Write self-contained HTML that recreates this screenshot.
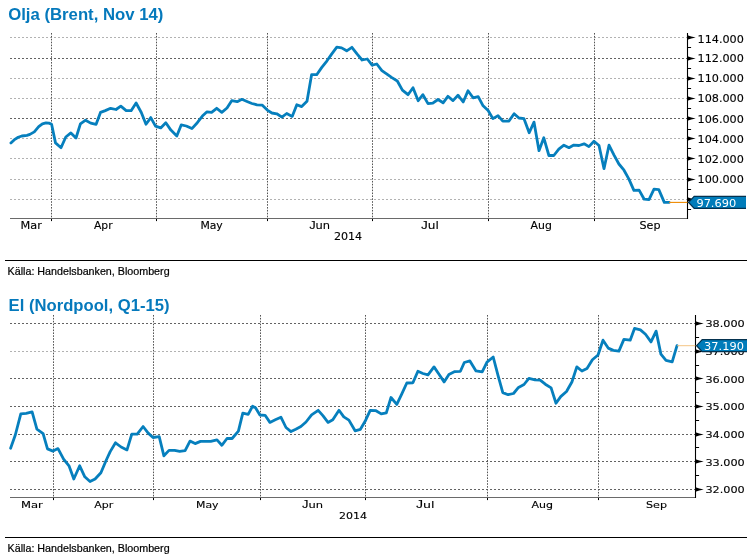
<!DOCTYPE html>
<html lang="sv">
<head>
<meta charset="utf-8">
<title>Olja och El</title>
<style>
html,body{margin:0;padding:0;background:#fff;}
body{width:754px;height:560px;overflow:hidden;position:relative;font-family:"Liberation Sans",sans-serif;}
svg{position:absolute;left:0;top:0;display:block;}
.hg{stroke:#636363;stroke-width:1;stroke-dasharray:2 2;}
.lt{stroke:#b2b2b2;}
.vg{stroke:#555;stroke-width:1;stroke-dasharray:1.6 1.3;}
.ax{stroke:#6a6a6a;stroke-width:1;}
.ay{stroke:#000;stroke-width:1.1;}
.tk{stroke:#000;stroke-width:1;}
.dl{fill:none;stroke:#067fbd;stroke-width:2.8;stroke-linejoin:round;stroke-linecap:round;}
.yl{font-family:"DejaVu Sans","Liberation Sans",sans-serif;fill:#000;stroke:#000;stroke-width:0.1;}
.xl{font-family:"DejaVu Sans","Liberation Sans",sans-serif;fill:#000;stroke:#000;stroke-width:0.12;}
.tl{font-family:"DejaVu Sans","Liberation Sans",sans-serif;fill:#fff;}
.ti{font-family:"Liberation Sans",sans-serif;font-weight:bold;font-size:16.4px;fill:#0579bc;}
.src{font-family:"Liberation Sans",sans-serif;font-size:10.6px;fill:#000;stroke:#000;stroke-width:0.2;}
.rule{stroke:#000;stroke-width:1.15;}
</style>
</head>
<body>
<svg width="754" height="560" viewBox="0 0 754 560">
<rect x="0" y="0" width="754" height="560" fill="#ffffff"/>
<text x="8.2" y="19.6" class="ti" textLength="155.2" lengthAdjust="spacingAndGlyphs">Olja (Brent, Nov 14)</text>
<g>
<line x1="10" y1="37.5" x2="687.5" y2="37.5" class="hg lt"/>
<line x1="10" y1="58.5" x2="687.5" y2="58.5" class="hg"/>
<line x1="10" y1="78.5" x2="687.5" y2="78.5" class="hg lt"/>
<line x1="10" y1="98.5" x2="687.5" y2="98.5" class="hg lt"/>
<line x1="10" y1="118.5" x2="687.5" y2="118.5" class="hg"/>
<line x1="10" y1="138.5" x2="687.5" y2="138.5" class="hg lt"/>
<line x1="10" y1="158.5" x2="687.5" y2="158.5" class="hg lt"/>
<line x1="10" y1="179.5" x2="687.5" y2="179.5" class="hg lt"/>
<line x1="10" y1="199.5" x2="687.5" y2="199.5" class="hg lt"/>
<line x1="51.5" y1="33" x2="51.5" y2="218.5" class="vg"/>
<line x1="51.5" y1="218.5" x2="51.5" y2="221.1" class="tk"/>
<line x1="156.5" y1="33" x2="156.5" y2="218.5" class="vg"/>
<line x1="156.5" y1="218.5" x2="156.5" y2="221.1" class="tk"/>
<line x1="267.5" y1="33" x2="267.5" y2="218.5" class="vg"/>
<line x1="267.5" y1="218.5" x2="267.5" y2="221.1" class="tk"/>
<line x1="372.5" y1="33" x2="372.5" y2="218.5" class="vg"/>
<line x1="372.5" y1="218.5" x2="372.5" y2="221.1" class="tk"/>
<line x1="488.5" y1="33" x2="488.5" y2="218.5" class="vg"/>
<line x1="488.5" y1="218.5" x2="488.5" y2="221.1" class="tk"/>
<line x1="594.5" y1="33" x2="594.5" y2="218.5" class="vg"/>
<line x1="594.5" y1="218.5" x2="594.5" y2="221.1" class="tk"/>
<line x1="10" y1="218.5" x2="688.0" y2="218.5" class="ax"/>
<line x1="687.5" y1="33" x2="687.5" y2="219.0" class="ay"/>
<path d="M687.5,35.2 Q690.9,36.5 695.7,37.5 Q690.9,38.5 687.5,39.8 Z" fill="#000"/>
<text x="697.5" y="42.8" class="yl" font-size="9.7" textLength="46.4" lengthAdjust="spacingAndGlyphs">114.000</text>
<path d="M687.5,56.2 Q690.9,57.5 695.7,58.5 Q690.9,59.5 687.5,60.8 Z" fill="#000"/>
<text x="697.5" y="62.2" class="yl" font-size="9.7" textLength="46.4" lengthAdjust="spacingAndGlyphs">112.000</text>
<path d="M687.5,76.2 Q690.9,77.5 695.7,78.5 Q690.9,79.5 687.5,80.8 Z" fill="#000"/>
<text x="697.5" y="82.0" class="yl" font-size="9.7" textLength="46.4" lengthAdjust="spacingAndGlyphs">110.000</text>
<path d="M687.5,96.2 Q690.9,97.5 695.7,98.5 Q690.9,99.5 687.5,100.8 Z" fill="#000"/>
<text x="697.5" y="102.4" class="yl" font-size="9.7" textLength="46.4" lengthAdjust="spacingAndGlyphs">108.000</text>
<path d="M687.5,116.2 Q690.9,117.5 695.7,118.5 Q690.9,119.5 687.5,120.8 Z" fill="#000"/>
<text x="697.5" y="122.6" class="yl" font-size="9.7" textLength="46.4" lengthAdjust="spacingAndGlyphs">106.000</text>
<path d="M687.5,136.2 Q690.9,137.5 695.7,138.5 Q690.9,139.5 687.5,140.8 Z" fill="#000"/>
<text x="697.5" y="142.8" class="yl" font-size="9.7" textLength="46.4" lengthAdjust="spacingAndGlyphs">104.000</text>
<path d="M687.5,156.2 Q690.9,157.5 695.7,158.5 Q690.9,159.5 687.5,160.8 Z" fill="#000"/>
<text x="697.5" y="162.7" class="yl" font-size="9.7" textLength="46.4" lengthAdjust="spacingAndGlyphs">102.000</text>
<path d="M687.5,177.2 Q690.9,178.5 695.7,179.5 Q690.9,180.5 687.5,181.8 Z" fill="#000"/>
<text x="697.5" y="182.9" class="yl" font-size="9.7" textLength="46.4" lengthAdjust="spacingAndGlyphs">100.000</text>
<path d="M687.5,197.2 Q690.9,198.5 695.7,199.5 Q690.9,200.5 687.5,201.8 Z" fill="#000"/>
<line x1="687.5" y1="47.5" x2="691.1" y2="47.5" class="tk"/>
<line x1="687.5" y1="68.5" x2="691.1" y2="68.5" class="tk"/>
<line x1="687.5" y1="88.5" x2="691.1" y2="88.5" class="tk"/>
<line x1="687.5" y1="108.5" x2="691.1" y2="108.5" class="tk"/>
<line x1="687.5" y1="129.5" x2="691.1" y2="129.5" class="tk"/>
<line x1="687.5" y1="148.5" x2="691.1" y2="148.5" class="tk"/>
<line x1="687.5" y1="169.5" x2="691.1" y2="169.5" class="tk"/>
<line x1="687.5" y1="189.5" x2="691.1" y2="189.5" class="tk"/>
<line x1="687.5" y1="209.5" x2="691.1" y2="209.5" class="tk"/>
<text x="20.5" y="229.0" class="xl" font-size="10.0" textLength="21.3" lengthAdjust="spacingAndGlyphs">Mar</text>
<text x="94" y="229.0" class="xl" font-size="10.0" textLength="18.6" lengthAdjust="spacingAndGlyphs">Apr</text>
<text x="200.4" y="229.0" class="xl" font-size="10.0" textLength="22.4" lengthAdjust="spacingAndGlyphs">May</text>
<text x="309.2" y="229.0" class="xl" font-size="10.0" textLength="20.9" lengthAdjust="spacingAndGlyphs"><tspan font-family="Liberation Sans, sans-serif" font-size="11.2">J</tspan>un</text>
<text x="421" y="229.0" class="xl" font-size="10.0" textLength="17.8" lengthAdjust="spacingAndGlyphs"><tspan font-family="Liberation Sans, sans-serif" font-size="11.2">J</tspan>ul</text>
<text x="530.6" y="229.0" class="xl" font-size="10.0" textLength="21.3" lengthAdjust="spacingAndGlyphs">Aug</text>
<text x="639.5" y="229.0" class="xl" font-size="10.0" textLength="21" lengthAdjust="spacingAndGlyphs">Sep</text>
<text x="333.9" y="240.1" class="xl" font-size="10.0" textLength="28.2" lengthAdjust="spacingAndGlyphs">2014</text>
<path d="M10.9,142.9 L14.1,139.9 L18.2,137.3 L21.8,136.0 L27.0,135.4 L29.9,134.4 L34.3,131.9 L38.7,126.7 L42.4,123.8 L46.0,122.8 L48.9,123.1 L51.6,124.3 L55.5,142.9 L61.0,147.7 L65.8,137.0 L70.9,132.9 L76.0,138.0 L80.4,123.8 L85.6,120.2 L90.7,123.1 L96.1,124.3 L100.5,112.4 L105.3,110.6 L110.6,108.3 L116.0,109.5 L120.8,106.2 L126.2,110.7 L131.1,110.7 L136.1,103.0 L141.3,112.5 L146.0,124.2 L150.8,117.6 L155.5,126.1 L160.7,127.9 L165.8,122.7 L170.9,130.1 L176.8,135.9 L181.2,124.9 L186.3,126.0 L191.9,128.6 L197.3,122.7 L202.4,116.1 L207.0,111.8 L211.6,112.4 L216.7,108.3 L221.8,112.3 L227.0,108.0 L231.7,100.7 L237.2,101.7 L241.9,99.3 L247.0,101.5 L251.9,103.5 L257.0,104.8 L262.1,105.1 L267.3,110.1 L271.9,113.0 L276.8,113.8 L281.9,117.1 L286.7,113.5 L292.2,116.4 L296.8,104.7 L301.7,106.6 L307.0,101.3 L311.6,74.7 L316.7,74.7 L321.8,67.4 L327.0,60.8 L331.8,53.9 L336.8,47.1 L341.6,47.9 L346.7,50.8 L351.9,47.3 L357.0,53.9 L362.1,60.0 L367.3,59.0 L372.1,65.2 L376.8,64.0 L381.9,70.6 L386.6,73.9 L391.9,77.6 L397.3,81.0 L402.4,90.1 L408.0,94.7 L413.0,87.7 L418.2,100.7 L422.9,94.7 L428.0,103.6 L432.8,103.2 L438.0,99.5 L443.1,102.8 L447.9,96.3 L453.0,100.6 L458.0,95.2 L463.2,102.0 L468.0,90.8 L473.1,97.8 L478.2,96.6 L483.1,105.8 L488.1,110.5 L492.9,118.6 L498.0,115.7 L502.8,121.2 L509.0,121.0 L514.1,113.7 L518.9,118.0 L524.0,118.7 L529.2,132.8 L534.0,122.1 L539.0,150.7 L543.8,137.8 L548.9,155.5 L553.8,155.5 L558.8,149.2 L563.9,145.2 L569.0,147.7 L573.8,145.1 L579.0,145.5 L584.1,143.8 L588.9,146.6 L594.0,141.3 L599.0,145.5 L604.0,168.7 L609.0,145.2 L613.9,154.8 L618.9,164.0 L624.0,170.2 L628.8,178.9 L633.9,190.4 L639.1,190.1 L644.2,199.2 L649.0,199.7 L654.0,189.2 L658.8,189.6 L664.3,202.4 L669.1,202.4" class="dl"/>
<line x1="669.1" y1="202.4" x2="687.5" y2="202.4" stroke="#ef8a00" stroke-width="1.1"/>
<path d="M688.4,202.4 L694.2,196.1 L746,196.1 L746,208.70000000000002 L694.2,208.70000000000002 Z" fill="#007cba"/>
<path d="M746,196.4 L694.2,196.4 L688.6,202.4 L694.2,208.4 L746,208.4" fill="none" stroke="#04324f" stroke-width="1.2"/>
<text x="696.4" y="207.0" class="tl" font-size="10.3" textLength="39.8" lengthAdjust="spacingAndGlyphs">97.690</text>
</g>
<line x1="5" y1="260.5" x2="747" y2="260.5" class="rule"/>
<text x="7.6" y="275" class="src" textLength="162" lengthAdjust="spacingAndGlyphs">Källa: Handelsbanken, Bloomberg</text>
<text x="8.6" y="311.2" class="ti" textLength="161" lengthAdjust="spacingAndGlyphs">El (Nordpool, Q1-15)</text>
<g>
<line x1="10" y1="323.5" x2="695.5" y2="323.5" class="hg"/>
<line x1="10" y1="351.5" x2="695.5" y2="351.5" class="hg lt"/>
<line x1="10" y1="378.5" x2="695.5" y2="378.5" class="hg"/>
<line x1="10" y1="406.5" x2="695.5" y2="406.5" class="hg"/>
<line x1="10" y1="434.5" x2="695.5" y2="434.5" class="hg"/>
<line x1="10" y1="461.5" x2="695.5" y2="461.5" class="hg"/>
<line x1="10" y1="489.5" x2="695.5" y2="489.5" class="hg"/>
<line x1="53.5" y1="315" x2="53.5" y2="497.5" class="vg"/>
<line x1="53.5" y1="497.5" x2="53.5" y2="500.1" class="tk"/>
<line x1="153.5" y1="315" x2="153.5" y2="497.5" class="vg"/>
<line x1="153.5" y1="497.5" x2="153.5" y2="500.1" class="tk"/>
<line x1="260.5" y1="315" x2="260.5" y2="497.5" class="vg"/>
<line x1="260.5" y1="497.5" x2="260.5" y2="500.1" class="tk"/>
<line x1="365.5" y1="315" x2="365.5" y2="497.5" class="vg"/>
<line x1="365.5" y1="497.5" x2="365.5" y2="500.1" class="tk"/>
<line x1="487.5" y1="315" x2="487.5" y2="497.5" class="vg"/>
<line x1="487.5" y1="497.5" x2="487.5" y2="500.1" class="tk"/>
<line x1="598.5" y1="315" x2="598.5" y2="497.5" class="vg"/>
<line x1="598.5" y1="497.5" x2="598.5" y2="500.1" class="tk"/>
<line x1="10" y1="497.5" x2="696.0" y2="497.5" class="ax"/>
<line x1="695.5" y1="315" x2="695.5" y2="498.0" class="ay"/>
<path d="M695.5,321.2 Q698.9,322.5 703.7,323.5 Q698.9,324.5 695.5,325.8 Z" fill="#000"/>
<text x="705.4" y="326.9" class="yl" font-size="9.3" textLength="39.4" lengthAdjust="spacingAndGlyphs">38.000</text>
<path d="M695.5,349.2 Q698.9,350.5 703.7,351.5 Q698.9,352.5 695.5,353.8 Z" fill="#000"/>
<text x="705.4" y="354.8" class="yl" font-size="9.3" textLength="39.4" lengthAdjust="spacingAndGlyphs">37.000</text>
<path d="M695.5,376.2 Q698.9,377.5 703.7,378.5 Q698.9,379.5 695.5,380.8 Z" fill="#000"/>
<text x="705.4" y="382.7" class="yl" font-size="9.3" textLength="39.4" lengthAdjust="spacingAndGlyphs">36.000</text>
<path d="M695.5,404.2 Q698.9,405.5 703.7,406.5 Q698.9,407.5 695.5,408.8 Z" fill="#000"/>
<text x="705.4" y="410.1" class="yl" font-size="9.3" textLength="39.4" lengthAdjust="spacingAndGlyphs">35.000</text>
<path d="M695.5,432.2 Q698.9,433.5 703.7,434.5 Q698.9,435.5 695.5,436.8 Z" fill="#000"/>
<text x="705.4" y="438.1" class="yl" font-size="9.3" textLength="39.4" lengthAdjust="spacingAndGlyphs">34.000</text>
<path d="M695.5,459.2 Q698.9,460.5 703.7,461.5 Q698.9,462.5 695.5,463.8 Z" fill="#000"/>
<text x="705.4" y="465.6" class="yl" font-size="9.3" textLength="39.4" lengthAdjust="spacingAndGlyphs">33.000</text>
<path d="M695.5,487.2 Q698.9,488.5 703.7,489.5 Q698.9,490.5 695.5,491.8 Z" fill="#000"/>
<text x="705.4" y="493.3" class="yl" font-size="9.3" textLength="39.4" lengthAdjust="spacingAndGlyphs">32.000</text>
<line x1="695.5" y1="337.5" x2="699.1" y2="337.5" class="tk"/>
<line x1="695.5" y1="365.5" x2="699.1" y2="365.5" class="tk"/>
<line x1="695.5" y1="392.5" x2="699.1" y2="392.5" class="tk"/>
<line x1="695.5" y1="420.5" x2="699.1" y2="420.5" class="tk"/>
<line x1="695.5" y1="447.5" x2="699.1" y2="447.5" class="tk"/>
<line x1="695.5" y1="475.5" x2="699.1" y2="475.5" class="tk"/>
<text x="21" y="508.0" class="xl" font-size="9.2" textLength="21.8" lengthAdjust="spacingAndGlyphs">Mar</text>
<text x="94.3" y="508.0" class="xl" font-size="9.2" textLength="19" lengthAdjust="spacingAndGlyphs">Apr</text>
<text x="196" y="508.0" class="xl" font-size="9.2" textLength="22.5" lengthAdjust="spacingAndGlyphs">May</text>
<text x="302" y="508.0" class="xl" font-size="9.2" textLength="21" lengthAdjust="spacingAndGlyphs"><tspan font-family="Liberation Sans, sans-serif" font-size="10.3">J</tspan>un</text>
<text x="416" y="508.0" class="xl" font-size="9.2" textLength="18.5" lengthAdjust="spacingAndGlyphs"><tspan font-family="Liberation Sans, sans-serif" font-size="10.3">J</tspan>ul</text>
<text x="531.6" y="508.0" class="xl" font-size="9.2" textLength="21.5" lengthAdjust="spacingAndGlyphs">Aug</text>
<text x="646" y="508.0" class="xl" font-size="9.2" textLength="21" lengthAdjust="spacingAndGlyphs">Sep</text>
<text x="338.9" y="519.1" class="xl" font-size="9.2" textLength="28.0" lengthAdjust="spacingAndGlyphs">2014</text>
<path d="M10.6,448.2 L15.3,435.0 L20.8,413.8 L26.2,413.3 L32.1,411.9 L36.9,429.2 L43.1,433.6 L47.5,448.9 L53.0,451.1 L58.0,448.6 L63.6,459.2 L69.0,465.8 L73.8,479.0 L79.7,465.8 L84.8,476.8 L90.0,481.5 L95.1,479.0 L100.9,472.7 L106.1,460.5 L110.2,451.6 L115.5,442.8 L121.1,447.0 L127.0,449.9 L131.8,434.1 L137.2,434.1 L143.1,426.5 L148.2,433.1 L153.0,437.5 L159.2,436.7 L163.9,455.8 L169.0,450.4 L174.6,450.4 L179.7,451.4 L185.1,450.7 L190.0,441.1 L195.1,443.6 L200.5,441.4 L205.3,441.4 L210.7,441.4 L217.0,439.9 L221.8,445.3 L227.0,438.5 L232.1,438.5 L238.4,431.1 L242.8,413.1 L248.2,414.3 L252.6,406.2 L255.5,407.7 L259.9,415.0 L265.1,415.3 L269.9,422.4 L275.3,419.7 L280.9,417.2 L286.0,427.5 L291.0,431.6 L295.8,429.2 L300.9,426.5 L306.0,422.0 L311.6,414.8 L318.2,410.3 L322.9,415.7 L328.0,422.4 L332.8,419.8 L339.0,410.3 L343.8,416.9 L348.9,420.1 L355.1,430.8 L360.4,429.3 L365.1,421.3 L370.2,410.3 L376.0,410.7 L381.2,413.9 L386.3,412.8 L391.0,397.5 L396.8,404.4 L401.7,394.2 L406.8,383.0 L412.9,382.8 L417.9,371.3 L422.9,373.5 L428.0,374.8 L434.0,366.9 L439.0,374.3 L444.1,381.9 L448.9,374.5 L454.8,371.6 L460.4,371.3 L464.3,362.5 L469.9,360.9 L476.0,370.9 L482.2,371.9 L487.0,362.1 L493.2,357.0 L498.0,375.3 L502.8,392.6 L508.1,394.7 L513.5,393.5 L518.5,387.4 L524.0,384.5 L528.9,378.3 L535.0,379.8 L540.2,380.1 L545.3,384.2 L551.1,387.9 L556.0,403.2 L560.7,396.6 L566.5,391.5 L571.9,382.0 L576.8,366.9 L581.9,371.0 L587.0,368.4 L592.4,359.7 L598.0,355.0 L603.0,340.2 L608.2,348.1 L613.3,350.4 L618.9,351.1 L623.9,339.4 L630.2,340.2 L634.5,328.4 L640.4,329.9 L645.5,334.3 L651.0,341.9 L656.1,331.1 L660.9,354.1 L666.0,360.4 L672.2,361.8 L677.0,345.7" class="dl"/>
<line x1="677.0" y1="345.7" x2="695.5" y2="345.7" stroke="#f3c078" stroke-width="0.9"/>
<path d="M696.4,345.7 L702.2,339.4 L747,339.4 L747,352.0 L702.2,352.0 Z" fill="#007cba"/>
<path d="M747,339.7 L702.2,339.7 L696.6,345.7 L702.2,351.7 L747,351.7" fill="none" stroke="#04324f" stroke-width="1.2"/>
<text x="704.1" y="350.1" class="tl" font-size="10.0" textLength="39.8" lengthAdjust="spacingAndGlyphs">37.190</text>
</g>
<line x1="5" y1="537.5" x2="747" y2="537.5" class="rule"/>
<text x="7.6" y="552" class="src" textLength="162" lengthAdjust="spacingAndGlyphs">Källa: Handelsbanken, Bloomberg</text>
</svg>
</body>
</html>
